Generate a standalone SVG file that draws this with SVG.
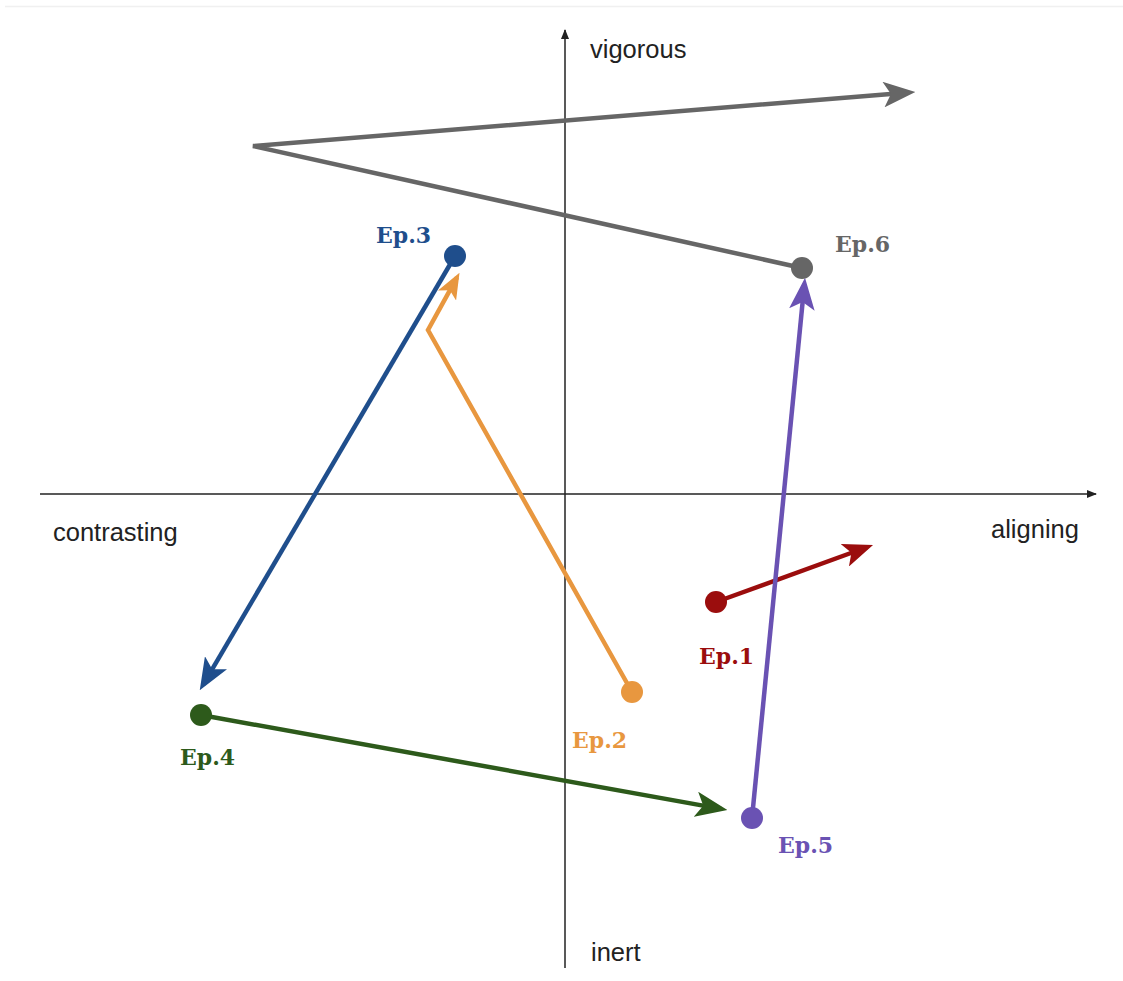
<svg xmlns="http://www.w3.org/2000/svg" width="1123" height="981" viewBox="0 0 1123 981">
<style>
.axis{stroke:#222;stroke-width:1.5;fill:none}
.ax{font-family:"Liberation Sans",Arial,sans-serif;font-size:25.5px;fill:#222}
.ep{font-family:"DejaVu Serif","Liberation Serif",serif;font-size:22px;font-weight:bold}
.c{stroke-width:4.5;fill:none;stroke-linejoin:miter}
</style>
<defs>
<marker id="ah-axis" viewBox="0 0 10 8" refX="9" refY="4" markerWidth="10" markerHeight="8" markerUnits="userSpaceOnUse" orient="auto"><path d="M0,0 L10,4 L0,8 z" fill="#222"/></marker>
<marker id="ah-gray" viewBox="0 0 30 24" refX="24" refY="12" markerWidth="32" markerHeight="26" markerUnits="userSpaceOnUse" orient="auto"><path d="M0,0 L30,12 L0,24 L7,12 z" fill="#666"/></marker>
<marker id="ah-red" viewBox="0 0 30 24" refX="24" refY="12" markerWidth="30" markerHeight="24" markerUnits="userSpaceOnUse" orient="auto"><path d="M0,0 L30,12 L0,24 L7,12 z" fill="#9b0d0d"/></marker>
<marker id="ah-orange" viewBox="0 0 30 24" refX="24" refY="12" markerWidth="26" markerHeight="21" markerUnits="userSpaceOnUse" orient="auto"><path d="M0,0 L30,12 L0,24 L7,12 z" fill="#e8973f"/></marker>
<marker id="ah-blue" viewBox="0 0 30 24" refX="24" refY="12" markerWidth="32" markerHeight="26" markerUnits="userSpaceOnUse" orient="auto"><path d="M0,0 L30,12 L0,24 L7,12 z" fill="#1f4e8c"/></marker>
<marker id="ah-green" viewBox="0 0 30 24" refX="24" refY="12" markerWidth="32" markerHeight="26" markerUnits="userSpaceOnUse" orient="auto"><path d="M0,0 L30,12 L0,24 L7,12 z" fill="#2d5a1b"/></marker>
<marker id="ah-purple" viewBox="0 0 30 24" refX="24" refY="12" markerWidth="32" markerHeight="26" markerUnits="userSpaceOnUse" orient="auto"><path d="M0,0 L30,12 L0,24 L7,12 z" fill="#6a52b3"/></marker>
</defs>
<rect width="1123" height="981" fill="#fff"/>
<line x1="5" y1="6.5" x2="1123" y2="6.5" stroke="#f0f0f0" stroke-width="1.5"/>
<g id="axes">
<line class="axis" x1="565" y1="968" x2="565" y2="30" marker-end="url(#ah-axis)"/>
<line class="axis" x1="40" y1="494" x2="1096" y2="494" marker-end="url(#ah-axis)"/>
<text class="ax" x="590" y="58">vigorous</text>
<text class="ax" x="53" y="541">contrasting</text>
<text class="ax" x="991" y="538">aligning</text>
<text class="ax" x="591" y="961">inert</text>
</g>
<g id="connectors">
<polyline class="c" stroke="#666" points="802,268 253,146 909,92.5" marker-end="url(#ah-gray)"/>
<line class="c" stroke="#9b0d0d" x1="716" y1="602" x2="867.4" y2="547" marker-end="url(#ah-red)"/>
<polyline class="c" stroke="#e8973f" points="632,692 428,330 457,277.3" marker-end="url(#ah-orange)"/>
<line class="c" stroke="#1f4e8c" x1="455" y1="256" x2="203" y2="684.8" marker-end="url(#ah-blue)"/>
<line class="c" stroke="#2d5a1b" x1="201" y1="715" x2="721.1" y2="808.9" marker-end="url(#ah-green)"/>
<line class="c" stroke="#6a52b3" x1="752" y1="818" x2="804.4" y2="284" marker-end="url(#ah-purple)"/>
</g>
<g id="ep1"><circle cx="716" cy="602" r="11" fill="#9b0d0d"/><text class="ep" x="699" y="664" fill="#9b0d0d">Ep.1</text></g>
<g id="ep2"><circle cx="632" cy="692" r="11" fill="#e8973f"/><text class="ep" x="572" y="748" fill="#e8973f">Ep.2</text></g>
<g id="ep3"><circle cx="455" cy="256" r="11" fill="#1f4e8c"/><text class="ep" x="376" y="243" fill="#1f4e8c">Ep.3</text></g>
<g id="ep4"><circle cx="201" cy="715" r="11" fill="#2d5a1b"/><text class="ep" x="180" y="765" fill="#2d5a1b">Ep.4</text></g>
<g id="ep5"><circle cx="752" cy="818" r="11" fill="#6a52b3"/><text class="ep" x="778" y="853" fill="#6a52b3">Ep.5</text></g>
<g id="ep6"><circle cx="802" cy="268" r="11" fill="#666"/><text class="ep" x="835" y="252" fill="#666">Ep.6</text></g>
</svg>
